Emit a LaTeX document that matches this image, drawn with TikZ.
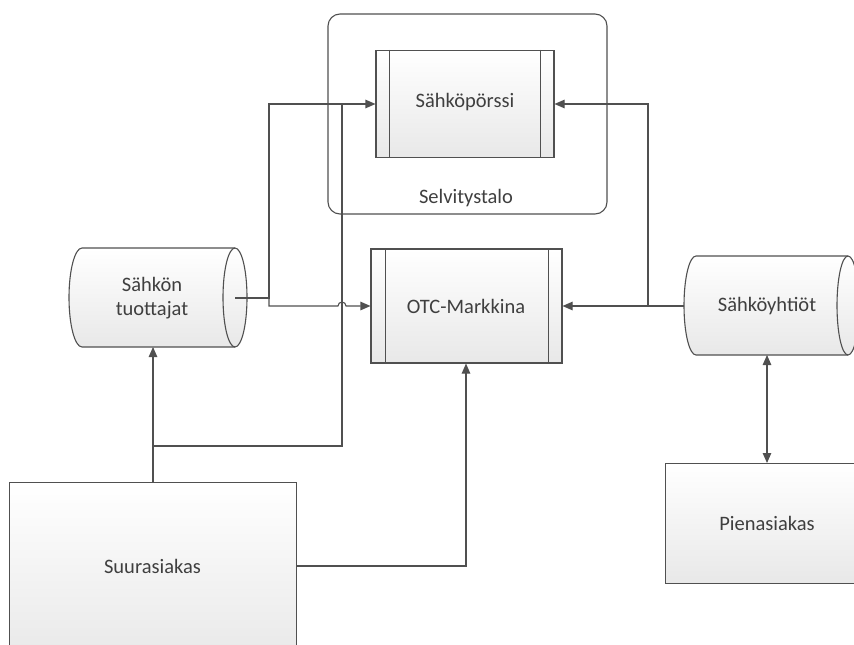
\documentclass[tikz,border=0pt]{standalone}
\usepackage{fontspec}
\setmainfont{Carlito}
\usetikzlibrary{arrows.meta}
\definecolor{lc}{HTML}{505050}
\definecolor{tc}{HTML}{3F3F3F}
\tikzset{
  shapebox/.style={draw=lc, line width=1.1pt, top color=white, bottom color=black!9},
  procbox/.style={shapebox, rectangle, inner sep=0pt},
  lbl/.style={text=tc, font=\fontsize{20.5}{24}\selectfont, align=center},
  conn/.style={draw=lc, line width=1.1pt},
  arr/.style={conn, -{Triangle[length=10pt,width=8.5pt]}},
  darr/.style={conn, {Triangle[length=10pt,width=8.5pt]}-{Triangle[length=10pt,width=8.5pt]}}
}
\begin{document}
\begin{tikzpicture}[x=1pt,y=-1pt]
\useasboundingbox (0,0) rectangle (854,645);
% Selvitystalo container
\node[draw=lc, line width=1.1pt, rounded corners=12pt, minimum width=279pt, minimum height=200pt, inner sep=0pt] (selv) at (467.5,114) {};
\node[lbl] (selvl) at (466,198) {Selvitystalo};
% Sahkoporssi
\node[procbox, minimum width=178pt, minimum height=107pt] (porssi) at (465,104) {};
\draw[conn] (porssi.north west) ++(14,0) -- ++(0,107);
\draw[conn] (porssi.north east) ++(-14,0) -- ++(0,107);
\node[lbl] (porssil) at (465,102) {Sähköpörssi};
% OTC
\node[procbox, minimum width=191pt, minimum height=114pt] (otc) at (466.5,306) {};
\draw[conn] (otc.north west) ++(15,0) -- ++(0,114);
\draw[conn] (otc.north east) ++(-14,0) -- ++(0,114);
\node[lbl] (otcl) at (466,306) {OTC-Markkina};
% Sahkon tuottajat cylinder
\path[shapebox] (82,248) -- (235,248) arc(-90:90:12 and 49.5) -- (82,347) arc(90:270:13 and 49.5) -- cycle;
\draw[conn] (235,248) arc(270:90:12 and 49.5);
\node[lbl] (tuot) at (152,298) {Sähkön\\tuottajat};
\coordinate (tuotE) at (235,298);
\coordinate (tuotS) at (153,347);
% Sahkoyhtiot cylinder
\path[shapebox] (696,256) -- (848,256) arc(-90:90:11 and 49.5) -- (696,355) arc(90:270:12 and 49.5) -- cycle;
\draw[conn] (848,256) arc(270:90:11 and 49.5);
\node[lbl] (yht) at (767,306) {Sähköyhtiöt};
\coordinate (yhtW) at (684,306);
\coordinate (yhtS) at (767,355);
% Suurasiakas
\node[procbox, minimum width=287pt, minimum height=180pt, anchor=north west] (suur) at (9,482) {};
\node[lbl] (suurl) at (152.5,566) {Suurasiakas};
% Pienasiakas
\node[procbox, minimum width=205pt, minimum height=120pt, anchor=north west] (pien) at (665,463) {};
\node[lbl] (pienl) at (767,523) {Pienasiakas};
% connectors
\coordinate (j1) at (269,298);
\coordinate (j2) at (648,306);
\draw[arr] (tuotE) -- (j1) |- (porssi.west);
\draw[arr] (j1) -- (269,306) -- (338,306) arc(180:360:4) -- (otc.west);
\draw[arr] (suur.north -| tuotS) -- (tuotS);
\draw[conn] (153,446) -- (342,446) -- (342,104);
\draw[arr] (suur.east |- suurl) -- (466,566) -- (otc.south -| 466,0);
\draw[arr] (yhtW) -- (otc.east);
\draw[arr] (j2) |- (porssi.east);
\draw[darr] (yhtS) -- (pien.north -| yhtS);
\end{tikzpicture}
\end{document}
